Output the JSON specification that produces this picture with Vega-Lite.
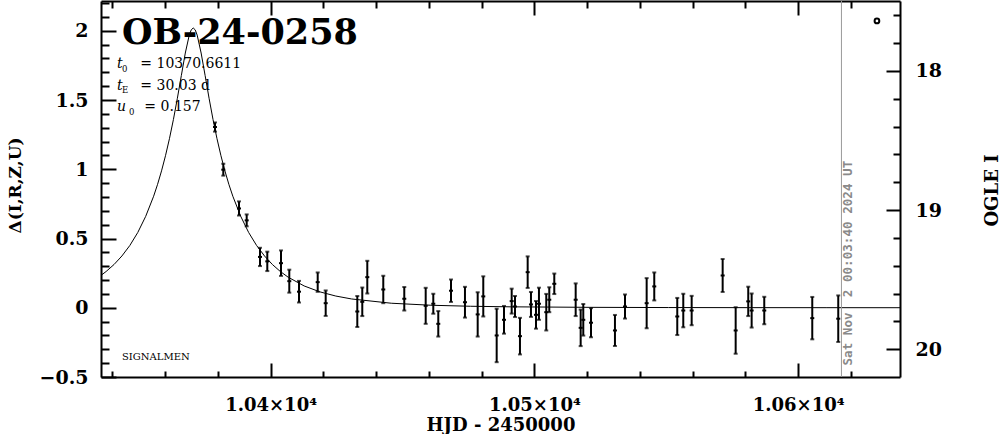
{
  "$schema": "https://vega.github.io/schema/vega-lite/v6.json",
  "width": 799,
  "height": 376,
  "autosize": {"type": "none"},
  "padding": {"left": 101, "top": 1, "right": 104, "bottom": 57},
  "background": "white",
  "config": {
    "view": {"stroke": null},
    "axis": {
      "grid": false,
      "domainColor": "black",
      "domainWidth": 2,
      "tickColor": "black",
      "tickWidth": 2,
      "labelColor": "black",
      "titleColor": "black",
      "labelFont": "DejaVu Serif",
      "titleFont": "DejaVu Serif",
      "labelFontSize": 19,
      "titleFontSize": 17,
      "labelFontWeight": "bold",
      "titleFontWeight": "bold"
    }
  },
  "datasets": {
    "pts": [
      {"t": 10378.91, "d": 1.305, "e": 0.033},
      {"t": 10382.06, "d": 0.997, "e": 0.043},
      {"t": 10388.01, "d": 0.717, "e": 0.051},
      {"t": 10390.93, "d": 0.631, "e": 0.043},
      {"t": 10395.97, "d": 0.367, "e": 0.066},
      {"t": 10398.74, "d": 0.335, "e": 0.070},
      {"t": 10403.93, "d": 0.322, "e": 0.092},
      {"t": 10407.08, "d": 0.192, "e": 0.083},
      {"t": 10410.76, "d": 0.116, "e": 0.078},
      {"t": 10417.85, "d": 0.185, "e": 0.070},
      {"t": 10420.88, "d": 0.033, "e": 0.092},
      {"t": 10432.86, "d": -0.027, "e": 0.112},
      {"t": 10434.75, "d": 0.043, "e": 0.103},
      {"t": 10436.65, "d": 0.221, "e": 0.118},
      {"t": 10442.71, "d": 0.132, "e": 0.099},
      {"t": 10450.67, "d": 0.065, "e": 0.085},
      {"t": 10458.79, "d": 0.014, "e": 0.130},
      {"t": 10461.67, "d": 0.029, "e": 0.072},
      {"t": 10463.56, "d": -0.116, "e": 0.092},
      {"t": 10468.38, "d": 0.123, "e": 0.081},
      {"t": 10473.68, "d": 0.040, "e": 0.111},
      {"t": 10478.50, "d": -0.048, "e": 0.160},
      {"t": 10480.62, "d": 0.082, "e": 0.145},
      {"t": 10485.70, "d": -0.200, "e": 0.193},
      {"t": 10488.47, "d": -0.087, "e": 0.100},
      {"t": 10491.39, "d": 0.048, "e": 0.090},
      {"t": 10492.64, "d": 0.009, "e": 0.076},
      {"t": 10494.53, "d": -0.205, "e": 0.132},
      {"t": 10497.45, "d": 0.257, "e": 0.114},
      {"t": 10498.70, "d": 0.024, "e": 0.090},
      {"t": 10500.60, "d": -0.051, "e": 0.100},
      {"t": 10501.73, "d": 0.029, "e": 0.116},
      {"t": 10504.50, "d": -0.032, "e": 0.132},
      {"t": 10505.64, "d": 0.058, "e": 0.090},
      {"t": 10507.54, "d": 0.173, "e": 0.074},
      {"t": 10515.65, "d": 0.058, "e": 0.118},
      {"t": 10517.54, "d": -0.145, "e": 0.132},
      {"t": 10518.53, "d": -0.087, "e": 0.114},
      {"t": 10521.45, "d": -0.108, "e": 0.105},
      {"t": 10530.54, "d": -0.164, "e": 0.112},
      {"t": 10534.34, "d": 0.009, "e": 0.087},
      {"t": 10542.56, "d": 0.033, "e": 0.181},
      {"t": 10545.44, "d": 0.154, "e": 0.101},
      {"t": 10554.16, "d": -0.063, "e": 0.134},
      {"t": 10556.44, "d": -0.020, "e": 0.121},
      {"t": 10559.62, "d": -0.020, "e": 0.106},
      {"t": 10571.37, "d": 0.233, "e": 0.119},
      {"t": 10576.30, "d": -0.164, "e": 0.168},
      {"t": 10581.07, "d": 0.046, "e": 0.106},
      {"t": 10582.36, "d": -0.020, "e": 0.123},
      {"t": 10587.14, "d": -0.020, "e": 0.099},
      {"t": 10605.34, "d": -0.075, "e": 0.153},
      {"t": 10615.19, "d": -0.079, "e": 0.168}
    ],
    "curve": [
      {"t": 10335.70, "d": 0.2340},
      {"t": 10337.63, "d": 0.2616},
      {"t": 10340.63, "d": 0.3121},
      {"t": 10343.63, "d": 0.3739},
      {"t": 10346.64, "d": 0.4498},
      {"t": 10349.64, "d": 0.5435},
      {"t": 10352.64, "d": 0.6598},
      {"t": 10355.65, "d": 0.8052},
      {"t": 10357.15, "d": 0.8914},
      {"t": 10358.65, "d": 0.9884},
      {"t": 10360.15, "d": 1.0978},
      {"t": 10361.65, "d": 1.2209},
      {"t": 10363.15, "d": 1.3593},
      {"t": 10364.65, "d": 1.5126},
      {"t": 10366.16, "d": 1.6771},
      {"t": 10367.66, "d": 1.8393},
      {"t": 10369.16, "d": 1.9688},
      {"t": 10369.91, "d": 2.0068},
      {"t": 10370.66, "d": 2.0202},
      {"t": 10371.41, "d": 2.0068},
      {"t": 10372.16, "d": 1.9688},
      {"t": 10373.66, "d": 1.8393},
      {"t": 10375.17, "d": 1.6771},
      {"t": 10376.67, "d": 1.5126},
      {"t": 10378.17, "d": 1.3593},
      {"t": 10379.67, "d": 1.2209},
      {"t": 10381.17, "d": 1.0978},
      {"t": 10382.67, "d": 0.9884},
      {"t": 10384.17, "d": 0.8914},
      {"t": 10385.68, "d": 0.8052},
      {"t": 10388.68, "d": 0.6598},
      {"t": 10391.68, "d": 0.5435},
      {"t": 10394.68, "d": 0.4498},
      {"t": 10397.69, "d": 0.3739},
      {"t": 10400.69, "d": 0.3121},
      {"t": 10403.69, "d": 0.2616},
      {"t": 10406.70, "d": 0.2201},
      {"t": 10412.70, "d": 0.1576},
      {"t": 10418.71, "d": 0.1146},
      {"t": 10424.71, "d": 0.0846},
      {"t": 10430.72, "d": 0.0634},
      {"t": 10445.74, "d": 0.0327},
      {"t": 10460.75, "d": 0.0182},
      {"t": 10475.77, "d": 0.0108},
      {"t": 10490.78, "d": 0.0067},
      {"t": 10520.81, "d": 0.0030},
      {"t": 10550.84, "d": 0.0015},
      {"t": 10580.87, "d": 0.0008},
      {"t": 10610.90, "d": 0.0005},
      {"t": 10638.60, "d": 0.0003}
    ],
    "nowline": [{"t": 10616.4}],
    "stamp": [{"t": 10619.0, "d": -0.417, "label": "Sat Nov\u00a0 2 00:03:40 2024 UT"}],
    "ttl": [{"t": 10343.66, "d": 1.906, "label": "OB-24-0258"}],
    "sig": [{"t": 10343.66, "d": -0.374, "label": "SIGNALMEN"}],
    "plet": [
      {"t": 10341.77, "d": 1.729, "s": "t"},
      {"t": 10341.77, "d": 1.570, "s": "t"},
      {"t": 10341.77, "d": 1.418, "s": "u"}
    ],
    "psub": [
      {"t": 10343.66, "d": 1.700, "s": "0"},
      {"t": 10343.66, "d": 1.552, "s": "E"},
      {"t": 10346.31, "d": 1.395, "s": "0"}
    ],
    "pval": [
      {"t": 10350.62, "d": 1.729, "s": "= 10370.6611"},
      {"t": 10350.62, "d": 1.570, "s": "= 30.03 d"},
      {"t": 10352.14, "d": 1.418, "s": "= 0.157"}
    ],
    "ogle": [{"t": 10629.86, "I": 17.64}]
  },
  "resolve": {"scale": {"y": "independent"}, "axis": {"x": "independent", "y": "independent"}},
  "layer": [
    {
      "data": {"name": "curve"},
      "mark": {"type": "line", "color": "black", "strokeWidth": 1, "clip": true},
      "encoding": {
        "x": {"field": "t", "type": "quantitative",
          "scale": {"domain": [10335.7, 10638.6], "nice": false, "zero": false},
          "axis": {"orient": "bottom", "values": [10400, 10500, 10600], "tickSize": -14, "labelPadding": 33, "labelFontSize": 18,
            "labelExpr": "format(datum.value/10000, '.2f') + '×10⁴'",
            "title": "HJD - 2450000", "titleFontSize": 18, "titleY": 39, "titleBaseline": "top"}},
        "y": {"field": "d", "type": "quantitative",
          "scale": {"domain": [-0.5, 2.215], "nice": false, "zero": false},
          "axis": {"orient": "left", "values": [-0.5, 0, 0.5, 1, 1.5, 2], "tickSize": -15, "labelPadding": 28,
            "labelExpr": "format(datum.value, '~g')",
            "title": "Δ(I,R,Z,U)", "titleX": -86, "titleY": 184, "titleBaseline": "middle", "titleAngle": 270}}
      }
    },
    {
      "data": {"name": "pts"},
      "mark": {"type": "tick", "orient": "horizontal", "size": 4, "thickness": 2, "color": "black", "opacity": 1},
      "encoding": {
        "x": {"field": "t", "type": "quantitative",
          "scale": {"domain": [10335.7, 10638.6], "nice": false, "zero": false},
          "axis": {"orient": "bottom", "values": [10340, 10360, 10380, 10420, 10440, 10460, 10480, 10520, 10540, 10560, 10580, 10620],
            "tickSize": -6, "labels": false, "domain": false, "title": null}},
        "y": {"field": "d", "type": "quantitative",
          "scale": {"domain": [-0.5, 2.215], "nice": false, "zero": false},
          "axis": {"orient": "left", "values": [-0.4, -0.3, -0.2, -0.1, 0.1, 0.2, 0.3, 0.4, 0.6, 0.7, 0.8, 0.9, 1.1, 1.2, 1.3, 1.4, 1.6, 1.7, 1.8, 1.9, 2.1, 2.2],
            "tickSize": -8, "labels": false, "domain": false, "title": null}}
      }
    },
    {
      "data": {"name": "pts"},
      "mark": {"type": "errorbar", "color": "black", "thickness": 2, "ticks": {"size": 4, "thickness": 2}, "rule": {"strokeWidth": 2}},
      "encoding": {
        "x": {"field": "t", "type": "quantitative",
          "scale": {"domain": [10335.7, 10638.6], "nice": false, "zero": false}, "axis": null},
        "y": {"field": "d", "type": "quantitative",
          "scale": {"domain": [-0.5, 2.215], "nice": false, "zero": false}, "axis": null},
        "yError": {"field": "e"}
      }
    },
    {
      "data": {"name": "nowline"},
      "mark": {"type": "rule", "color": "#9a9a9a", "strokeWidth": 1},
      "encoding": {
        "x": {"field": "t", "type": "quantitative",
          "scale": {"domain": [10335.7, 10638.6], "nice": false, "zero": false}, "axis": null}
      }
    },
    {
      "data": {"name": "stamp"},
      "mark": {"type": "text", "angle": 270, "align": "left", "baseline": "middle", "font": "DejaVu Sans Mono", "fontWeight": "bold", "fontSize": 12.6, "color": "#8a8a8a"},
      "encoding": {
        "x": {"field": "t", "type": "quantitative",
          "scale": {"domain": [10335.7, 10638.6], "nice": false, "zero": false}, "axis": null},
        "y": {"field": "d", "type": "quantitative",
          "scale": {"domain": [-0.5, 2.215], "nice": false, "zero": false}, "axis": null},
        "text": {"field": "label"}
      }
    },
    {
      "data": {"name": "ttl"},
      "mark": {"type": "text", "align": "left", "baseline": "alphabetic", "font": "DejaVu Serif", "fontWeight": "bold", "fontSize": 35, "color": "black"},
      "encoding": {
        "x": {"field": "t", "type": "quantitative",
          "scale": {"domain": [10335.7, 10638.6], "nice": false, "zero": false}, "axis": null},
        "y": {"field": "d", "type": "quantitative",
          "scale": {"domain": [-0.5, 2.215], "nice": false, "zero": false}, "axis": null},
        "text": {"field": "label"}
      }
    },
    {
      "data": {"name": "sig"},
      "mark": {"type": "text", "align": "left", "baseline": "alphabetic", "font": "DejaVu Serif", "fontSize": 10, "color": "black"},
      "encoding": {
        "x": {"field": "t", "type": "quantitative",
          "scale": {"domain": [10335.7, 10638.6], "nice": false, "zero": false}, "axis": null},
        "y": {"field": "d", "type": "quantitative",
          "scale": {"domain": [-0.5, 2.215], "nice": false, "zero": false}, "axis": null},
        "text": {"field": "label"}
      }
    },
    {
      "data": {"name": "plet"},
      "mark": {"type": "text", "align": "left", "baseline": "alphabetic", "font": "DejaVu Serif", "fontStyle": "italic", "fontSize": 14, "color": "black"},
      "encoding": {
        "x": {"field": "t", "type": "quantitative",
          "scale": {"domain": [10335.7, 10638.6], "nice": false, "zero": false}, "axis": null},
        "y": {"field": "d", "type": "quantitative",
          "scale": {"domain": [-0.5, 2.215], "nice": false, "zero": false}, "axis": null},
        "text": {"field": "s"}
      }
    },
    {
      "data": {"name": "psub"},
      "mark": {"type": "text", "align": "left", "baseline": "alphabetic", "font": "DejaVu Serif", "fontSize": 8.5, "color": "black"},
      "encoding": {
        "x": {"field": "t", "type": "quantitative",
          "scale": {"domain": [10335.7, 10638.6], "nice": false, "zero": false}, "axis": null},
        "y": {"field": "d", "type": "quantitative",
          "scale": {"domain": [-0.5, 2.215], "nice": false, "zero": false}, "axis": null},
        "text": {"field": "s"}
      }
    },
    {
      "data": {"name": "pval"},
      "mark": {"type": "text", "align": "left", "baseline": "alphabetic", "font": "DejaVu Serif", "fontSize": 14, "color": "black"},
      "encoding": {
        "x": {"field": "t", "type": "quantitative",
          "scale": {"domain": [10335.7, 10638.6], "nice": false, "zero": false}, "axis": null},
        "y": {"field": "d", "type": "quantitative",
          "scale": {"domain": [-0.5, 2.215], "nice": false, "zero": false}, "axis": null},
        "text": {"field": "s"}
      }
    },
    {
      "data": {"name": "ogle"},
      "mark": {"type": "point", "shape": "circle", "filled": false, "size": 22, "strokeWidth": 2, "color": "black", "opacity": 1},
      "encoding": {
        "x": {"field": "t", "type": "quantitative",
          "scale": {"domain": [10335.7, 10638.6], "nice": false, "zero": false},
          "axis": {"orient": "top", "values": [10400, 10500, 10600], "tickSize": -14, "labels": false, "title": null}},
        "y": {"field": "I", "type": "quantitative",
          "scale": {"domain": [17.497, 20.199], "reverse": true, "nice": false, "zero": false},
          "axis": {"orient": "right", "values": [18, 19, 20], "tickSize": -14, "labelPadding": 29,
            "labelExpr": "format(datum.value, 'd')",
            "title": "OGLE I", "titleFontSize": 18, "titleX": 92, "titleY": 189, "titleAngle": 270, "titleBaseline": "middle"}}
      }
    },
    {
      "data": {"name": "ogle"},
      "mark": {"type": "point", "opacity": 0},
      "encoding": {
        "x": {"field": "t", "type": "quantitative",
          "scale": {"domain": [10335.7, 10638.6], "nice": false, "zero": false},
          "axis": {"orient": "top", "values": [10340, 10360, 10380, 10420, 10440, 10460, 10480, 10520, 10540, 10560, 10580, 10620],
            "tickSize": -7, "labels": false, "domain": false, "title": null}},
        "y": {"field": "I", "type": "quantitative",
          "scale": {"domain": [17.497, 20.199], "reverse": true, "nice": false, "zero": false},
          "axis": {"orient": "right", "values": [17.6, 17.8, 18.2, 18.4, 18.6, 18.8, 19.2, 19.4, 19.6, 19.8, 20.2],
            "tickSize": -7, "labels": false, "domain": false, "title": null}}
      }
    }
  ]
}
